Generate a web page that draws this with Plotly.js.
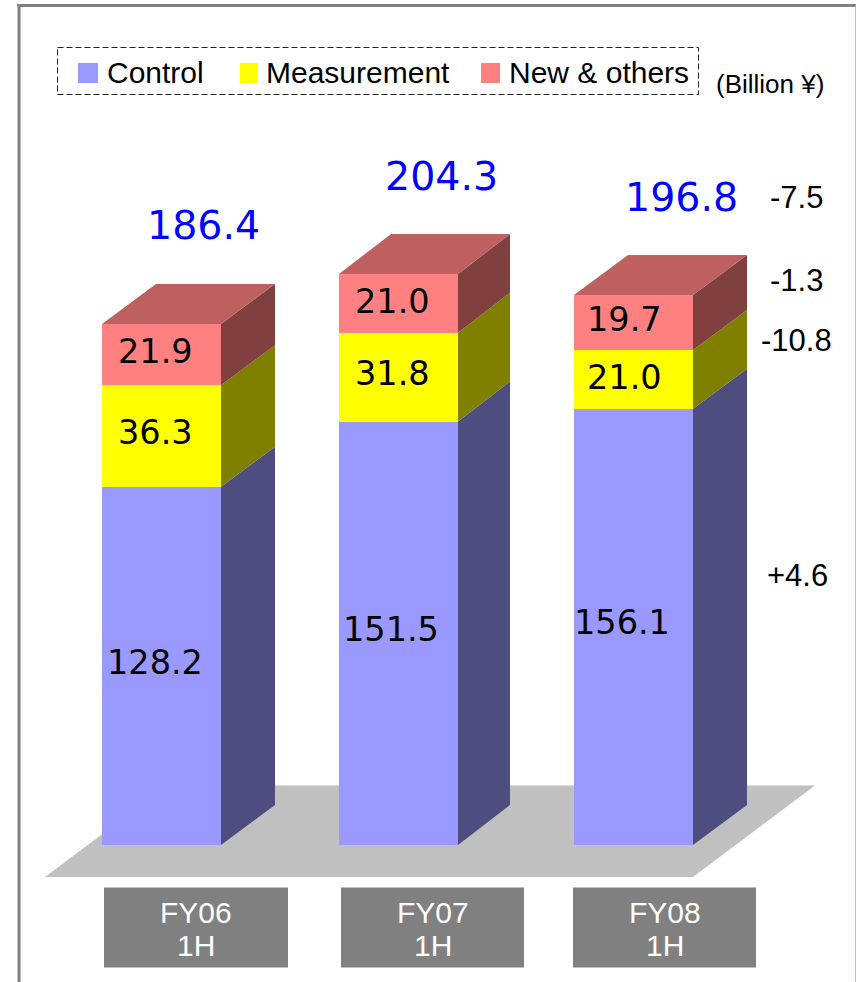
<!DOCTYPE html>
<html><head><meta charset="utf-8">
<script src="https://cdn.plot.ly/plotly-3.0.1.min.js"></script>
<style>html,body{margin:0;padding:0;background:#fff}</style></head>
<body><div id="chart" style="width:856px;height:982px"></div>
<script>
// data
const periods = ['FY06<br>1H','FY07<br>1H','FY08<br>1H'];
const control = [128.2,151.5,156.1];
const measurement = [36.3,31.8,21.0];
const others = [21.9,21.0,19.7];
const totals = [186.4,204.3,196.8];
const changes = ['-7.5','-1.3','-10.8','+4.6'];
const seriesNames = ['Control','Measurement','New & others'];

// geometry (page pixels)
const W=856,H=982,BASE=845,SCALE=2.795;
const centers=[161.5,398.5,633.5], BW=119, DXS=[54,52,54], DY=40;
const val=p=>(BASE-p)/SCALE;
const dyv=DY/SCALE;
const FRONT=['#9999FF','#FFFF00','#FF8080'], SIDE=['#4D4D80','#808000','#804040'], TOP='#BF6060';

const stacks=[control,measurement,others];
const traces=[];
stacks.forEach((s,i)=>traces.push({type:'bar',name:seriesNames[i],x:centers,y:s,width:BW,marker:{color:FRONT[i],line:{width:0}},hoverinfo:'name+y',showlegend:false}));
function poly(x,y,color,name){traces.push({type:'scatter',mode:'lines',x,y,fill:'toself',fillcolor:color,line:{width:0},hoverinfo:'skip',showlegend:false,name});}
centers.forEach((c,j)=>{
  const xr=c+BW/2, DX=DXS[j]; let lo=0;
  stacks.forEach((s,i)=>{
    const hi=lo+s[j];
    poly([xr,xr+DX,xr+DX,xr,xr],[lo,lo+dyv,hi+dyv,hi,lo],SIDE[i],seriesNames[i]+' side');
    lo=hi;
  });
  const xl=c-BW/2;
  poly([xl,xr,xr+DX,xl+DX,xl],[lo,lo,lo+dyv,lo+dyv,lo],TOP,'top');
});

const shapes=[];
const ann=[];
function rect(x0,y0,x1,y1,fill,line){shapes.push({type:'rect',layer:'below',xref:'x',yref:'y',x0,x1,y0:val(y0),y1:val(y1),fillcolor:fill,line:line||{width:0}});}
function txt(t,x,y,size,color,family){ann.push({text:t,x,y:val(y),xref:'x',yref:'y',showarrow:false,xanchor:'center',yanchor:'middle',align:'center',font:{size,color,family}});}
function seg(x0,y0,x1,y1,color,width){shapes.push({type:'line',layer:'below',xref:'x',yref:'y',x0,x1,y0:val(y0),y1:val(y1),line:{color,width}});}

// frame
seg(855.5,4,855.5,982,'#C0C0C0',1);
seg(17.5,5.5,855.5,5.5,'#808080',3);
seg(19,4,19,982,'#808080',3);
// floor
shapes.push({type:'path',layer:'below',xref:'x',yref:'y',path:`M45,${val(877)} L167,${val(785.5)} L815,${val(785.5)} L693,${val(877)} Z`,fillcolor:'#C0C0C0',line:{width:0}});
// period boxes
const boxes=[[104,288],[341,524],[573,756]];
boxes.forEach((b,j)=>{rect(b[0],887.5,b[1],967.5,'#808080');
  const sn=periods[j].split('<br>');
  const mid=(b[0]+b[1])/2;
  txt(sn[0],mid,912,30,'#FFFFFF','Liberation Sans');
  txt(sn[1],mid,945,30,'#FFFFFF','Liberation Sans');
});
// legend
rect(57.5,47.5,698.5,94.5,'rgba(0,0,0,0)',{color:'#222',width:1,dash:'6px,3px'});
[[78,98],[240,258],[481,500]].forEach((s,i)=>rect(s[0],63,s[1],83,FRONT[i]));
[[155,72],[358,72],[599,72]].forEach((p,i)=>txt(seriesNames[i].replace('&','&amp;'),p[0],p[1],30,'#000','Liberation Sans'));
txt('(Billion ¥)',770,84,26,'#000','Liberation Sans');
// totals
[[203,225],[441,176],[681,197]].forEach((p,j)=>txt(totals[j].toFixed(1),p[0],p[1],39.5,'#0000FF','DejaVu Sans'));
// segment labels
const lab=[[[154.5,662],[391,629],[622,622]],[[155,432],[392,373],[624.5,377]],[[155,351],[392,301],[624.5,319]]];
stacks.forEach((s,i)=>s.forEach((v,j)=>txt(v.toFixed(1),lab[i][j][0],lab[i][j][1],33.5,'#000','DejaVu Sans')));
// change labels
[[796,197],[796,280],[796,340],[797,575]].forEach((p,i)=>txt(changes[i],p[0],p[1],31,'#000','Liberation Sans'));

Plotly.newPlot('chart',traces,{
  width:W,height:H,margin:{l:0,r:0,t:0,b:0,pad:0},barmode:'stack',bargap:0,
  paper_bgcolor:'#fff',plot_bgcolor:'#fff',showlegend:false,
  xaxis:{range:[0,W],visible:false,fixedrange:true},
  yaxis:{range:[val(H),val(0)],visible:false,fixedrange:true},
  shapes,annotations:ann
},{displayModeBar:false,responsive:false});
</script></body></html>
